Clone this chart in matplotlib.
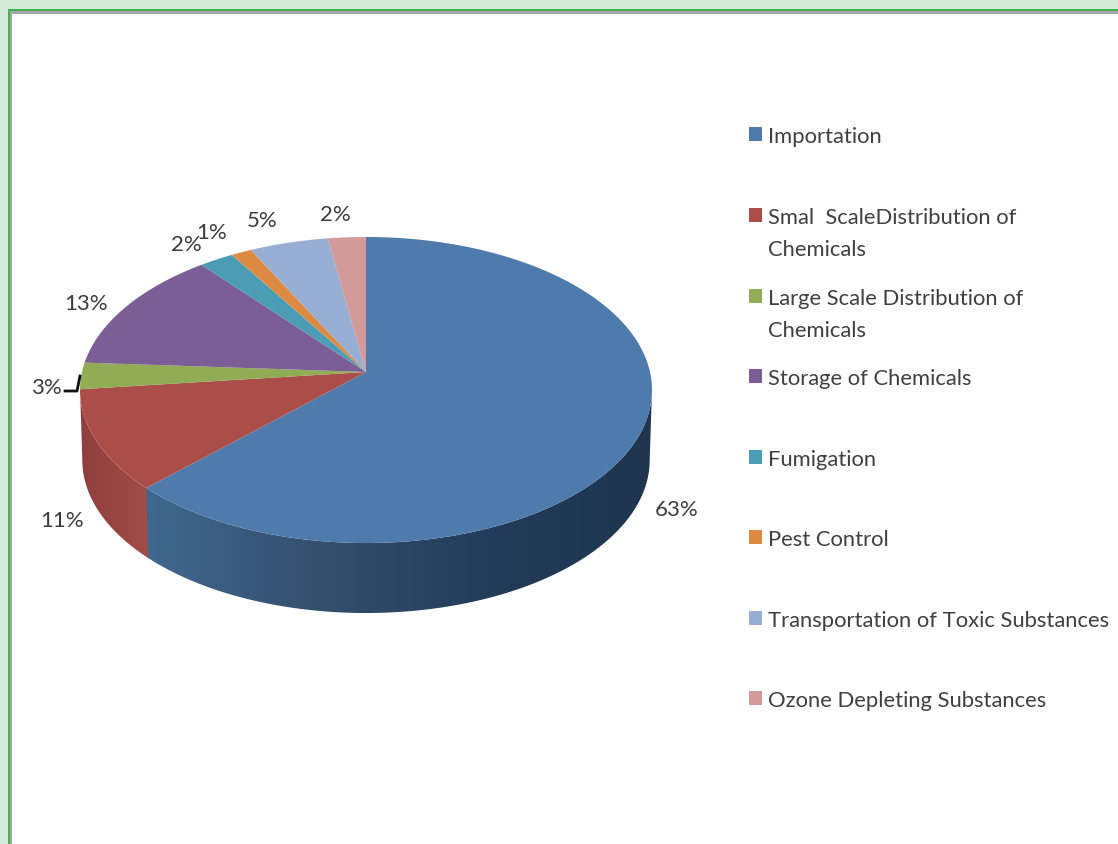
import matplotlib
matplotlib.use("Agg")
import matplotlib.pyplot as plt
from matplotlib.colors import LinearSegmentedColormap
from matplotlib.patches import Polygon, Rectangle
import numpy as np

plt.rcParams['font.family'] = ['Lato', 'DejaVu Sans']

categories = ["Importation", "Smal  ScaleDistribution of\nChemicals",
              "Large Scale Distribution of\nChemicals", "Storage of Chemicals",
              "Fumigation", "Pest Control",
              "Transportation of Toxic Substances", "Ozone Depleting Substances"]
shares = [62.55, 10.65, 2.8, 13.1, 2.2, 1.3, 5.0, 2.4]
colors = ["#4f7bac", "#ab4e4a", "#90ac55", "#7b5e95",
          "#4a9db5", "#dd8a43", "#98aed2", "#d29a9b"]
side_colors = {0: ["#41688f", "#34506f", "#233c59", "#1f3550"],
               1: ["#8e3f3c", "#a34c49"]}
label_pos = [(677, 510), (62, 521), (46, 388), (86, 304),
             (186, 245), (212, 233), (262, 221), (335, 215)]
legend_y = [137, 234, 315, 379, 460, 540, 621, 701]

# pie geometry in pixels, with perspective tilt
CX, CY = 366, 373
A, B, K = 284, 150.9, 0.1176
DEPTH = 70


def rim(theta):
    # theta in degrees, clockwise from the top
    t = np.radians(theta)
    u, v = np.sin(t), np.cos(t)
    w = 1 + K * v
    return CX + A * u / w, CY - B * v / w


fig = plt.figure(figsize=(11.18, 8.45), dpi=100, facecolor="#d3ebd8")
ax = fig.add_axes([0, 0, 1, 1])
ax.set_xlim(0, 1118)
ax.set_ylim(845, 0)
ax.axis("off")

# frame
ax.add_patch(Rectangle((8, 10), 1110, 835, fc="#3cb54a", ec="none"))
ax.add_patch(Rectangle((10, 12), 1108, 833, fc="#a6a4a8", ec="none"))
ax.add_patch(Rectangle((12, 15), 1106, 830, fc="white", ec="none"))

edges = 360 * np.cumsum([0] + shares) / sum(shares)

# sides first, a horizontal gradient clipped to each side outline
for i, stops in side_colors.items():
    start = edges[i]
    stop = edges[i + 1]
    if i == 0:
        start = 90 + np.degrees(np.arcsin(K))
    else:
        # small overlap under the blue side so no seam shows
        start -= 0.5
    th = np.linspace(start, stop, 200)
    x, y = rim(th)
    x2 = CX + (x - CX) * 0.992
    outline = Polygon(np.c_[np.r_[x, x2[::-1]], np.r_[y, y[::-1] + DEPTH]],
                      closed=True, fc="none", ec="none", transform=ax.transData)
    ax.add_patch(outline)
    cmap = LinearSegmentedColormap.from_list(f"side{i}", stops)
    im = ax.imshow(np.linspace(0, 1, 256)[None, :], cmap=cmap, aspect="auto",
                   extent=(x.min(), x.max(), 700, 300), zorder=2 - i * 0.1)
    im.set_clip_path(outline)
ax.set_xlim(0, 1118)
ax.set_ylim(845, 0)

# top faces
for i, col in enumerate(colors):
    th = np.linspace(edges[i], edges[i + 1], max(int(shares[i] * 8), 6))
    x, y = rim(th)
    ax.fill(np.r_[CX, x], np.r_[CY, y], color=col, lw=0, zorder=3)

# data labels
for s, (x, y) in zip(shares, label_pos):
    ax.text(x, y, f"{round(s)}%", fontsize=16, color="#3c3c3c",
            ha="center", va="center", zorder=5)

# leader line for the 3% label
ax.plot([65, 77, 80], [392, 392, 377], color="#111111", lw=2, zorder=4)

# legend
for name, col, y in zip(categories, colors, legend_y):
    first_y = y - 18 if "\n" in name else y - 2
    ax.add_patch(Rectangle((749, first_y - 7), 13, 14, fc=col, ec="none"))
    ax.text(768, y, name, fontsize=15.8, color="#404040", ha="left", va="center",
            linespacing=1.75)

fig.savefig("out.png", dpi=100, facecolor=fig.get_facecolor())
